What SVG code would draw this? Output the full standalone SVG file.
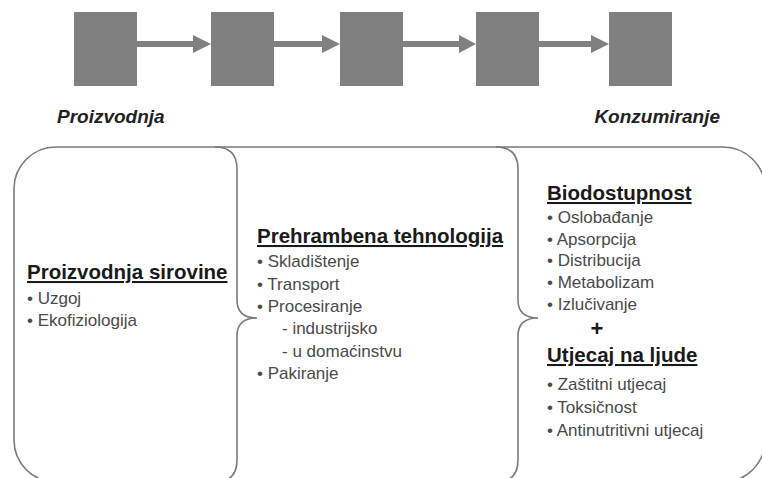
<svg xmlns="http://www.w3.org/2000/svg" width="762" height="478" viewBox="0 0 762 478">
<style>
.box{fill:#808080;}
.arr{fill:#808080;}
.frame{fill:none;stroke:#7a7a7a;stroke-width:1.6;}
.lbl{font-family:"Liberation Sans",Arial,sans-serif;font-weight:bold;font-style:italic;font-size:19px;fill:#222;}
.hd{font-family:"Liberation Sans",Arial,sans-serif;font-weight:bold;font-size:20.5px;fill:#1a1a1a;text-decoration:underline;}
.it{font-family:"Liberation Sans",Arial,sans-serif;font-size:17px;fill:#4a4a4a;}
.plus{font-family:"Liberation Sans",Arial,sans-serif;font-weight:bold;font-size:22px;fill:#1a1a1a;}
</style>
<rect width="762" height="478" fill="#ffffff"/>
<g id="box1"><rect class="box" x="74" y="12" width="63" height="74"/></g>
<g id="box2"><rect class="box" x="211" y="12" width="63" height="74"/></g>
<g id="box3"><rect class="box" x="340" y="12" width="63" height="74"/></g>
<g id="box4"><rect class="box" x="476" y="12" width="63" height="74"/></g>
<g id="box5"><rect class="box" x="609" y="12" width="63" height="74"/></g>
<g id="connectors">
<path class="arr" d="M137,41 H193 V35 L211,44 L193,53 V47 H137 Z"/>
<path class="arr" d="M274,41 H322 V35 L340,44 L322,53 V47 H274 Z"/>
<path class="arr" d="M403,41 H459 V35 L476,44 L459,53 V47 H403 Z"/>
<path class="arr" d="M539,41 H591 V35 L609,44 L591,53 V47 H539 Z"/>
</g>
<g id="labels">
<text class="lbl" x="57" y="123">Proizvodnja</text>
<text class="lbl" x="720" y="123" text-anchor="end">Konzumiranje</text>
</g>
<g id="frame">
<rect class="frame" x="14" y="147" width="751" height="335" rx="42" ry="42"/>
<path class="frame" d="M215,147 Q237,147 237,169 V300 Q237,318 257,318 Q237,318 237,336 V460 Q237,482 215,482"/>
<path class="frame" d="M496,147 Q518,147 518,169 V300 Q518,318 538,318 Q518,318 518,336 V460 Q518,482 496,482"/>
</g>
<g id="col1">
<text class="hd" x="27" y="279">Proizvodnja sirovine</text>
<text class="it" x="27" y="304">• Uzgoj</text>
<text class="it" x="27" y="326">• Ekofiziologija</text>
</g>
<g id="col2">
<text class="hd" x="257" y="243">Prehrambena tehnologija</text>
<text class="it" x="257" y="267">• Skladištenje</text>
<text class="it" x="257" y="290">• Transport</text>
<text class="it" x="257" y="312">• Procesiranje</text>
<text class="it" x="282" y="334">- industrijsko</text>
<text class="it" x="282" y="357">- u domaćinstvu</text>
<text class="it" x="257" y="379">• Pakiranje</text>
</g>
<g id="col3">
<text class="hd" x="547" y="200">Biodostupnost</text>
<text class="it" x="547" y="223">• Oslobađanje</text>
<text class="it" x="547" y="245">• Apsorpcija</text>
<text class="it" x="547" y="266">• Distribucija</text>
<text class="it" x="547" y="288">• Metabolizam</text>
<text class="it" x="547" y="310">• Izlučivanje</text>
<text class="plus" x="597" y="336" text-anchor="middle">+</text>
<text class="hd" x="547" y="362">Utjecaj na ljude</text>
<text class="it" x="547" y="390">• Zaštitni utjecaj</text>
<text class="it" x="547" y="413">• Toksičnost</text>
<text class="it" x="547" y="436">• Antinutritivni utjecaj</text>
</g>
</svg>
